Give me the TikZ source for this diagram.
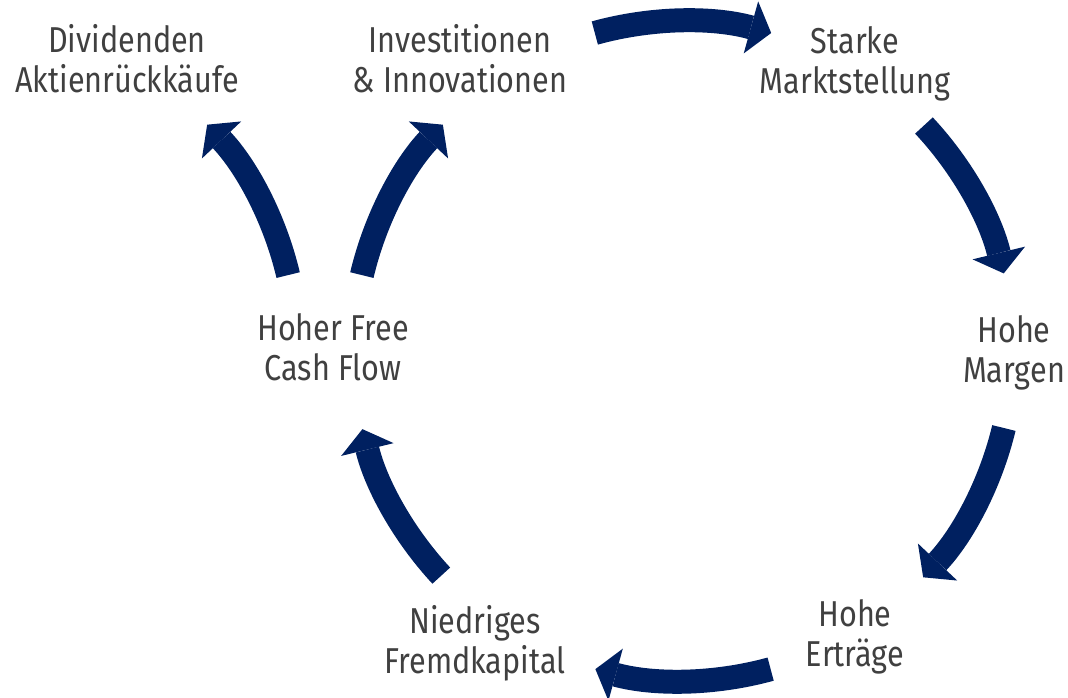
\documentclass[tikz,border=0pt]{standalone}
\usepackage{fontspec}
\setmainfont{Fira Sans}[FakeStretch=0.85]
\usetikzlibrary{arrows.meta}
\definecolor{navy}{HTML}{002060}
\definecolor{txt}{HTML}{404040}
\tikzset{
  cyc/.style={draw=navy, line width=24pt, -{Triangle[width=54pt,length=21pt,line width=0pt]}},
  lbl/.style={font=\fontsize{36}{40}\selectfont, text=txt, align=center, anchor=base, inner sep=0pt}
}
\begin{document}
\begin{tikzpicture}[x=1pt,y=1pt]
\useasboundingbox (0,0) rectangle (1068,698);
\coordinate (O) at (683,347);
\coordinate (L) at (-33,347);
% labels (anchor = baseline of last line)
\node[lbl] (div) at (127,605) {Dividenden\\Aktienrückkäufe};
\node[lbl] (inv) at (460,605) {Investitionen\\\& Innovationen};
\node[lbl] (mkt) at (855,604) {Starke\\Marktstellung};
\node[lbl] (mar) at (1014,315) {Hohe\\Margen};
\node[lbl] (ert) at (855,31) {Hohe\\Erträge};
\node[lbl] (fk) at (475,24) {Niedriges\\Fremdkapital};
\node[lbl] (fcf) at (333,317) {Hoher Free\\Cash Flow};
% cycle arrows
\draw[cyc] ([shift={(105.5:330pt)}]O) arc[start angle=105.5,end angle=74.5,radius=330pt];
\draw[cyc] ([shift={(43.1:330pt)}]O) arc[start angle=43.1,end angle=13.6,radius=330pt];
\draw[cyc] ([shift={(-13.5:330pt)}]O) arc[start angle=-13.5,end angle=-43.3,radius=330pt];
\draw[cyc] ([shift={(-74.6:330pt)}]O) arc[start angle=-74.6,end angle=-105.4,radius=330pt];
\draw[cyc] ([shift={(222.9:330pt)}]O) arc[start angle=222.9,end angle=193.7,radius=330pt];
\draw[cyc] ([shift={(166.7:330pt)}]O) arc[start angle=166.7,end angle=136.7,radius=330pt];
\draw[cyc] ([shift={(13.3:330pt)}]L) arc[start angle=13.3,end angle=43.3,radius=330pt];
\end{tikzpicture}
\end{document}
